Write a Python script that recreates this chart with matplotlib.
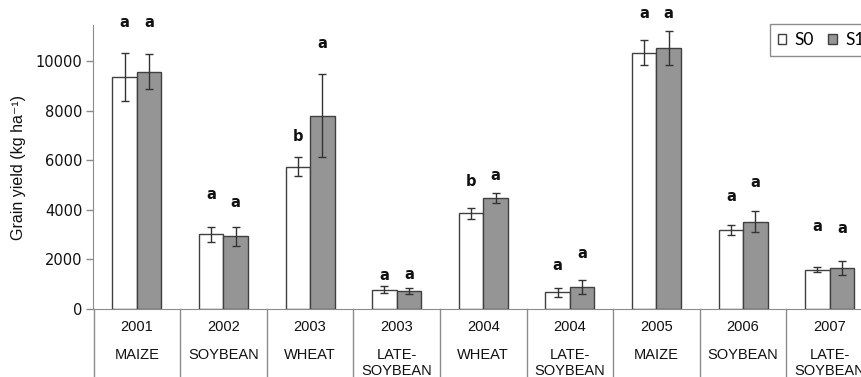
import matplotlib.pyplot as plt
from matplotlib.patches import Patch

# ------------------------------------------------------------
# Data
# ------------------------------------------------------------
years = ["2001", "2002", "2003", "2003", "2004", "2004", "2005", "2006", "2007"]
crops = ["MAIZE", "SOYBEAN", "WHEAT", "LATE-\nSOYBEAN", "WHEAT",
         "LATE-\nSOYBEAN", "MAIZE", "SOYBEAN", "LATE-\nSOYBEAN"]

s0_mean = [9370, 3010, 5740, 780, 3860, 670, 10340, 3200, 1590]
s0_err = [970, 300, 370, 155, 230, 180, 510, 200, 90]
s1_mean = [9570, 2930, 7800, 740, 4460, 870, 10520, 3520, 1640]
s1_err = [700, 380, 1670, 120, 200, 280, 670, 420, 280]

s0_letters = ["a", "a", "b", "a", "b", "a", "a", "a", "a"]
s1_letters = ["a", "a", "a", "a", "a", "a", "a", "a", "a"]
# heights (kg/ha) where the significance letters sit
s0_letter_y = [11570, 4600, 6950, 1370, 5130, 1750, 11900, 4530, 3320]
s1_letter_y = [11570, 4290, 10710, 1400, 5400, 2220, 11900, 5080, 3230]

# ------------------------------------------------------------
# Figure
# ------------------------------------------------------------
W, H = 862, 377
fig = plt.figure(figsize=(W / 100, H / 100), dpi=100)

# axes runs past the right edge like the (cropped) original
left_px, right_px, top_px, bot_px = 93.5, 873.0, 25.0, 309.0
ax = fig.add_axes([left_px / W, 1 - bot_px / H,
                   (right_px - left_px) / W, (bot_px - top_px) / H])

grey_line = "#8c8c8c"
edge = "#404040"
sans = ["Liberation Sans", "DejaVu Sans"]
bar_w = 0.283
x = list(range(len(years)))
x0 = [i - bar_w / 2 for i in x]
x1 = [i + bar_w / 2 for i in x]

err_kw = dict(ecolor="#333333", elinewidth=1.0, capsize=3.2, capthick=1.0)
ax.bar(x0, s0_mean, bar_w, yerr=s0_err, color="white", edgecolor=edge,
       linewidth=1.0, error_kw=err_kw, zorder=2)
ax.bar(x1, s1_mean, bar_w, yerr=s1_err, color="#959595", edgecolor=edge,
       linewidth=1.0, error_kw=err_kw, zorder=2)

for xi, lab, yl in zip(x0, s0_letters, s0_letter_y):
    ax.text(xi, yl, lab, ha="center", va="center", fontsize=10.5,
            fontweight="bold", color="#111111", clip_on=False)
for xi, lab, yl in zip(x1, s1_letters, s1_letter_y):
    ax.text(xi, yl, lab, ha="center", va="center", fontsize=10.5,
            fontweight="bold", color="#111111", clip_on=False)

ax.set_xlim(-0.5, len(years) - 0.5)
ax.set_ylim(0, 11450)
ax.set_yticks([0, 2000, 4000, 6000, 8000, 10000])
ax.tick_params(axis="y", direction="out", length=5, width=1,
               color=grey_line, labelsize=10.5, labelcolor="#111111", pad=3)
ax.set_xticks([])

for side in ("top", "right"):
    ax.spines[side].set_visible(False)
ax.spines["left"].set_color(grey_line)
ax.spines["bottom"].set_color(grey_line)

# category table below the axis
trans = ax.get_xaxis_transform()
for i in range(len(years) + 1):
    ax.plot([i - 0.5, i - 0.5], [0, -0.3], transform=trans, color=grey_line,
            linewidth=1, clip_on=False)
for i, (yr, cr) in enumerate(zip(years, crops)):
    ax.text(i, -0.062, yr, transform=trans, ha="center", va="center",
            fontsize=10.5, family=sans, color="#111111")
    ax.text(i, -0.138, cr, transform=trans, ha="center", va="top",
            fontsize=10.5, family=sans, color="#111111",
            linespacing=1.15)

ax.set_ylabel("Grain yield (kg ha\u207b\u00b9)", fontsize=11.5,
              family=sans, color="#111111")
ax.yaxis.set_label_coords(-0.087, 0.5)

handles = [Patch(facecolor="white", edgecolor=edge, label="S0"),
           Patch(facecolor="#959595", edgecolor=edge, label="S1")]
leg = fig.legend(handles=handles, loc="upper left",
                 bbox_to_anchor=(770 / W, 1 - 24 / H), ncol=2,
                 frameon=True, fancybox=False,
                 prop={"family": "Lato", "size": 12.5},
                 handlelength=0.5, handleheight=0.5, handletextpad=0.45,
                 columnspacing=0.85, borderpad=0.45, borderaxespad=0)
leg.get_frame().set_edgecolor("#707070")
leg.get_frame().set_linewidth(1.0)

fig.savefig("out.png", dpi=100)
